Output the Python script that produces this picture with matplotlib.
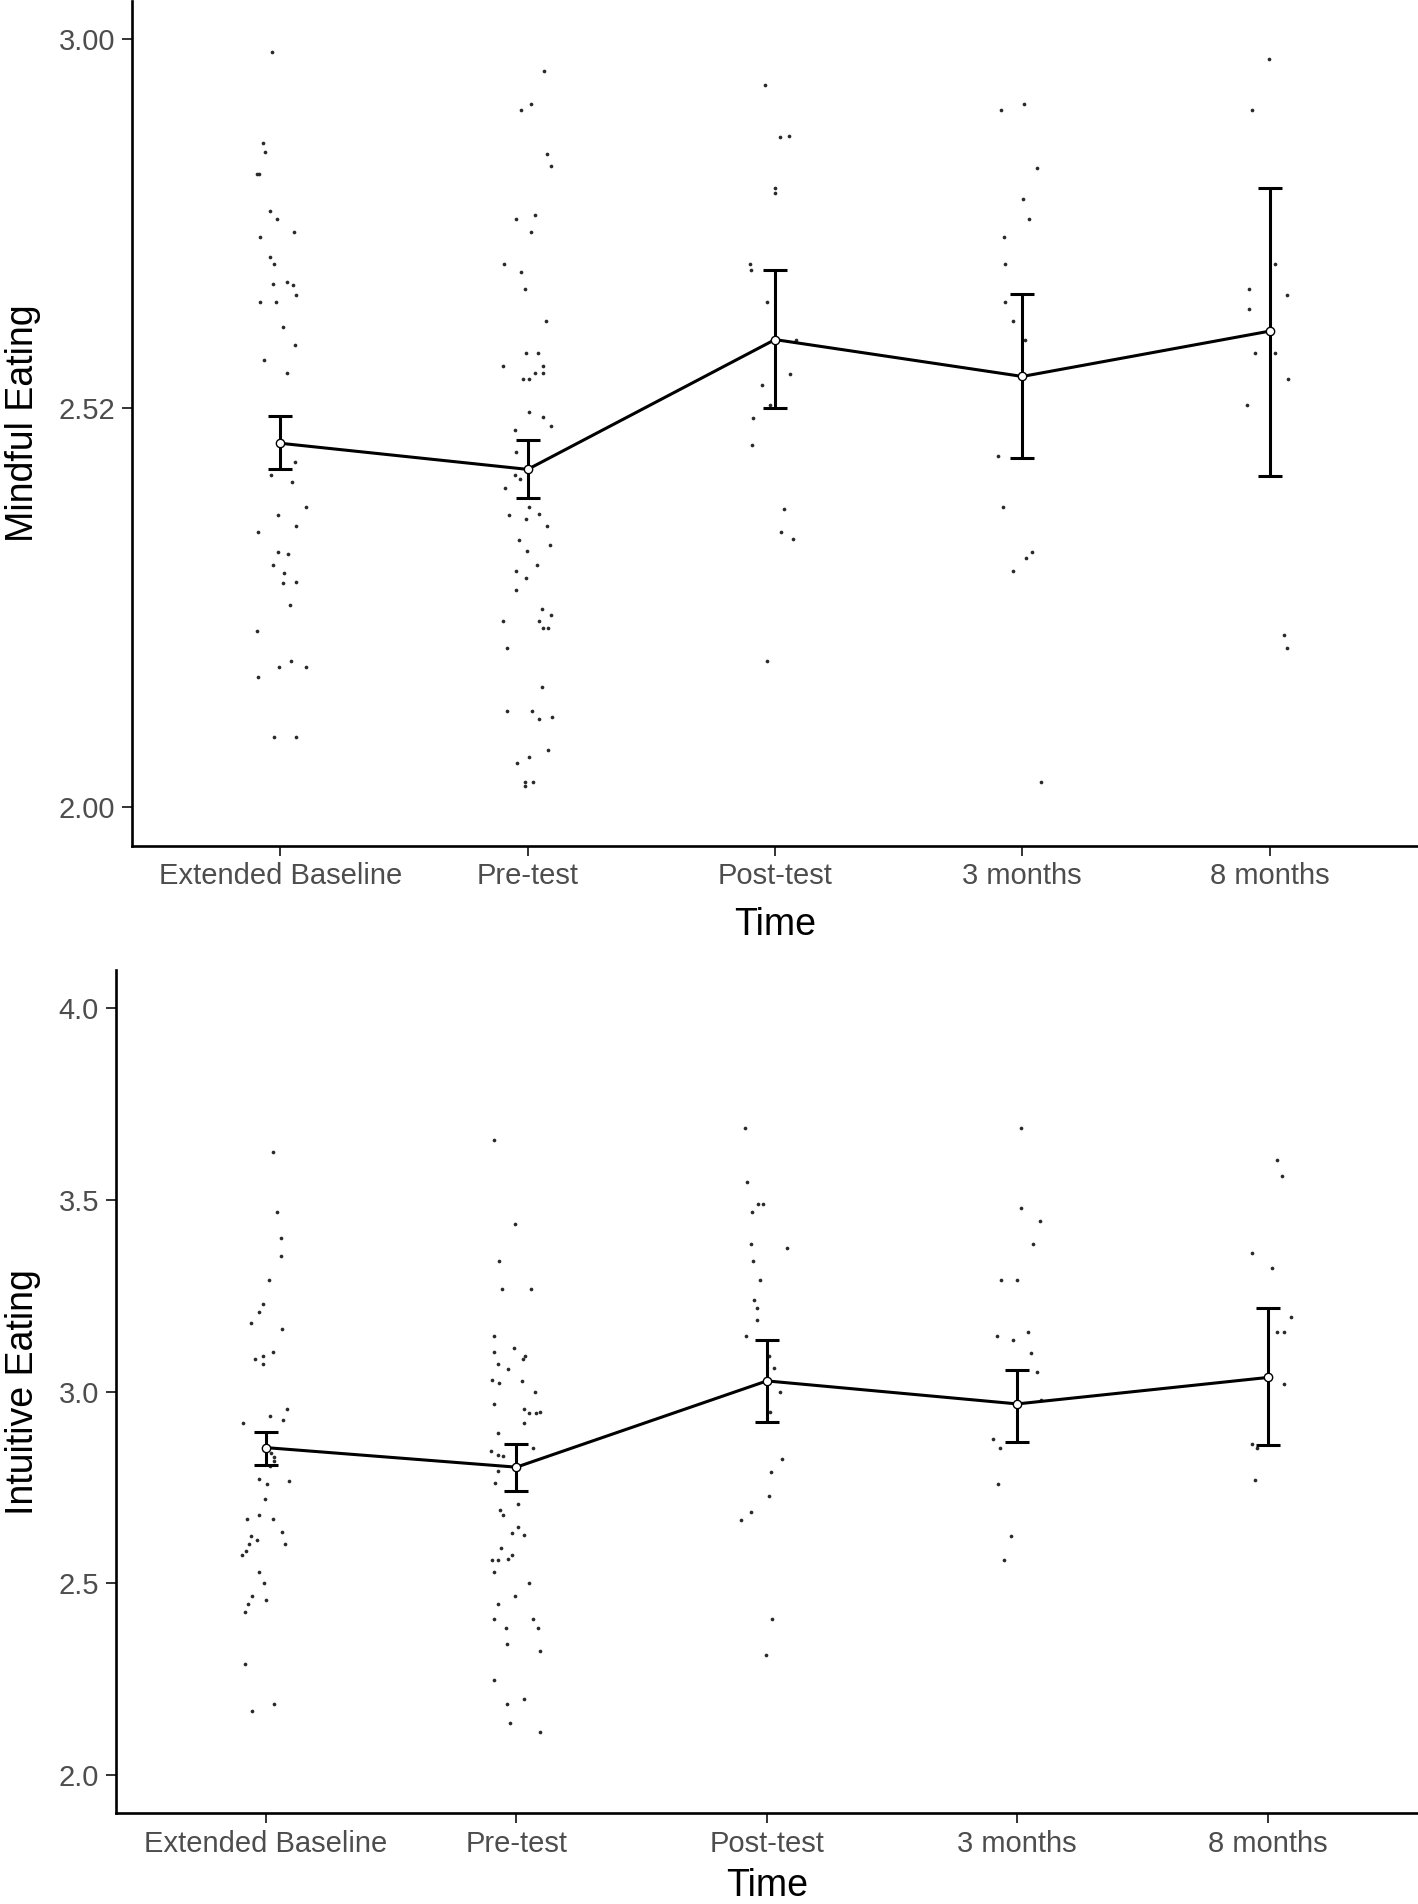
import matplotlib
matplotlib.use("Agg")
import matplotlib.pyplot as plt
import numpy as np

plt.rcParams['font.family'] = ['Liberation Sans', 'DejaVu Sans']

times = ["Extended Baseline", "Pre-test", "Post-test", "3 months", "8 months"]

# Mindful Eating: group means and error bar ends
mindful_mean = [2.474, 2.440, 2.609, 2.561, 2.620]
mindful_lo = [2.441, 2.403, 2.520, 2.455, 2.432]
mindful_hi = [2.509, 2.478, 2.699, 2.669, 2.807]

# Intuitive Eating: group means and error bar ends
intuitive_mean = [2.854, 2.803, 3.028, 2.968, 3.037]
intuitive_lo = [2.809, 2.740, 2.920, 2.869, 2.860]
intuitive_hi = [2.895, 2.863, 3.135, 3.056, 3.217]

# raw scores as (jitter, value) per time point
me_baseline = [(-0.032, 2.983), (-0.072, 2.865), (-0.063, 2.853), (-0.094, 2.825), (-0.087, 2.825),
               (-0.041, 2.777), (-0.012, 2.766), (0.056, 2.749), (-0.083, 2.742), (-0.041, 2.717),
               (-0.025, 2.708), (-0.030, 2.682), (0.028, 2.684), (0.052, 2.680), (0.065, 2.667),
               (-0.081, 2.658), (-0.017, 2.658), (0.010, 2.625), (0.059, 2.602), (-0.067, 2.583),
               (0.028, 2.566), (0.059, 2.450), (-0.039, 2.433), (0.047, 2.424), (0.102, 2.391),
               (-0.008, 2.380), (0.065, 2.366), (-0.091, 2.358), (-0.008, 2.333), (0.032, 2.330),
               (-0.030, 2.316), (0.014, 2.305), (0.065, 2.294), (0.010, 2.292), (0.039, 2.263),
               (-0.096, 2.230), (0.043, 2.191), (-0.005, 2.183), (0.102, 2.183), (-0.091, 2.170),
               (-0.026, 2.091), (0.065, 2.091)]
me_pre = [(0.066, 2.959), (0.013, 2.916), (-0.029, 2.908), (0.079, 2.851), (0.093, 2.835),
          (0.029, 2.771), (-0.046, 2.766), (0.013, 2.749), (-0.095, 2.707), (-0.029, 2.697),
          (-0.009, 2.675), (0.075, 2.633), (-0.006, 2.592), (0.042, 2.592), (-0.099, 2.575),
          (0.062, 2.575), (0.029, 2.566), (0.062, 2.566), (-0.017, 2.558), (0.007, 2.558),
          (0.004, 2.515), (0.062, 2.508), (0.093, 2.497), (-0.051, 2.491), (-0.048, 2.463),
          (-0.051, 2.433), (-0.033, 2.428), (-0.093, 2.416), (0.007, 2.391), (-0.075, 2.381),
          (-0.006, 2.375), (0.044, 2.382), (0.080, 2.366), (-0.035, 2.348), (0.090, 2.341),
          (-0.002, 2.334), (0.038, 2.316), (-0.048, 2.308), (-0.006, 2.299), (-0.048, 2.283),
          (0.058, 2.258), (0.044, 2.242), (0.093, 2.250), (0.062, 2.233), (0.084, 2.234),
          (-0.099, 2.242), (-0.084, 2.208), (0.058, 2.156), (-0.084, 2.125), (0.016, 2.125),
          (0.044, 2.115), (0.097, 2.117), (0.084, 2.075), (-0.044, 2.058), (0.007, 2.065),
          (-0.011, 2.033), (0.020, 2.033), (-0.011, 2.028)]
me_post = [(-0.041, 2.941), (0.021, 2.873), (0.057, 2.874), (0.002, 2.807), (0.002, 2.800),
           (-0.100, 2.707), (-0.096, 2.700), (-0.032, 2.658), (0.085, 2.608), (0.061, 2.564),
           (-0.051, 2.550), (-0.019, 2.524), (-0.087, 2.507), (-0.091, 2.472), (0.036, 2.388),
           (0.026, 2.358), (0.072, 2.349), (-0.032, 2.191)]
me_3m = [(-0.086, 2.908), (0.005, 2.916), (0.060, 2.833), (0.002, 2.792), (0.027, 2.766),
         (-0.075, 2.742), (-0.072, 2.708), (-0.072, 2.658), (-0.039, 2.633), (0.009, 2.608),
         (-0.097, 2.458), (-0.079, 2.391), (0.040, 2.333), (0.014, 2.325), (-0.039, 2.308),
         (0.075, 2.033)]
me_8m = [(-0.003, 2.974), (-0.073, 2.908), (0.021, 2.708), (-0.084, 2.675), (0.070, 2.667),
         (-0.084, 2.649), (-0.060, 2.592), (0.021, 2.592), (0.074, 2.558), (-0.091, 2.524),
         (0.059, 2.224), (0.070, 2.208)]

ie_baseline = [(0.027, 3.625), (0.045, 3.468), (0.059, 3.402), (0.059, 3.353), (0.012, 3.291),
               (-0.013, 3.229), (-0.029, 3.208), (-0.060, 3.178), (0.065, 3.163), (0.030, 3.103),
               (-0.044, 3.085), (-0.011, 3.094), (-0.013, 3.073), (0.083, 2.956), (0.018, 2.936),
               (0.070, 2.927), (-0.091, 2.917), (0.020, 2.840), (0.032, 2.830), (0.032, 2.818),
               (0.016, 2.805), (-0.027, 2.771), (0.005, 2.760), (0.092, 2.768), (-0.004, 2.719),
               (-0.076, 2.668), (-0.026, 2.678), (0.029, 2.667), (0.065, 2.634), (-0.058, 2.623),
               (-0.037, 2.612), (-0.067, 2.603), (0.077, 2.603), (-0.080, 2.584), (-0.094, 2.573),
               (-0.027, 2.530), (-0.009, 2.500), (-0.055, 2.468), (-0.073, 2.447), (0.001, 2.457),
               (-0.083, 2.426), (-0.083, 2.290), (0.034, 2.186), (-0.055, 2.167)]
ie_pre = [(-0.091, 3.656), (-0.005, 3.438), (-0.068, 3.340), (-0.059, 3.269), (0.057, 3.269),
          (-0.091, 3.145), (-0.008, 3.114), (-0.091, 3.103), (0.035, 3.094), (0.026, 3.084),
          (-0.073, 3.073), (-0.034, 3.060), (-0.097, 3.030), (-0.070, 3.023), (0.022, 3.029),
          (0.073, 3.000), (-0.091, 2.968), (0.030, 2.956), (0.051, 2.943), (0.077, 2.943),
          (0.095, 2.947), (0.030, 2.919), (-0.073, 2.891), (0.066, 2.853), (-0.100, 2.844),
          (-0.073, 2.836), (-0.052, 2.833), (-0.073, 2.792), (-0.086, 2.762), (0.008, 2.707),
          (-0.064, 2.690), (-0.055, 2.677), (0.008, 2.646), (-0.019, 2.632), (0.032, 2.625),
          (-0.061, 2.593), (-0.097, 2.562), (-0.073, 2.562), (-0.032, 2.564), (-0.016, 2.573),
          (-0.091, 2.530), (0.050, 2.500), (-0.005, 2.468), (-0.073, 2.447), (-0.091, 2.406),
          (0.066, 2.406), (-0.043, 2.384), (0.086, 2.384), (-0.037, 2.342), (0.095, 2.323),
          (-0.091, 2.249), (-0.037, 2.186), (0.032, 2.197), (-0.024, 2.135), (0.095, 2.113)]
ie_post = [(-0.089, 3.689), (-0.080, 3.548), (-0.036, 3.490), (-0.015, 3.490), (-0.058, 3.468),
           (-0.063, 3.385), (0.079, 3.375), (-0.056, 3.340), (-0.027, 3.291), (-0.053, 3.240),
           (-0.040, 3.218), (-0.040, 3.186), (-0.085, 3.146), (0.009, 3.094), (0.029, 3.063),
           (0.054, 3.000), (0.013, 2.947), (0.059, 2.823), (0.016, 2.791), (0.009, 2.728),
           (-0.062, 2.685), (-0.103, 2.666), (0.022, 2.406), (-0.002, 2.312)]
ie_3m = [(0.016, 3.689), (0.016, 3.479), (0.091, 3.446), (0.064, 3.385), (-0.067, 3.291),
         (-0.003, 3.291), (0.043, 3.156), (-0.082, 3.146), (-0.019, 3.136), (0.055, 3.102),
         (0.079, 3.051), (0.093, 2.977), (-0.098, 2.877), (-0.069, 2.853), (-0.077, 2.760),
         (-0.026, 2.624), (-0.052, 2.562)]
ie_8m = [(0.035, 3.605), (0.055, 3.563), (-0.061, 3.363), (0.018, 3.322), (0.094, 3.196),
         (0.035, 3.156), (0.065, 3.156), (0.065, 3.020), (-0.061, 2.864), (-0.043, 2.853),
         (-0.050, 2.769)]

mindful_points = [me_baseline, me_pre, me_post, me_3m, me_8m]
intuitive_points = [ie_baseline, ie_pre, ie_post, ie_3m, ie_8m]

W, H = 1418, 1904
fig = plt.figure(figsize=(W / 100, H / 100), dpi=100)

TICK_GREY = '#4d4d4d'


def panel(rect, points, mean, lo, hi, ylim, yticks, yticklabels, ylabel, ylabel_y, xpad):
    ax = fig.add_axes(rect)
    pos = np.arange(1, len(times) + 1)
    for i, pts in enumerate(points):
        jit = np.array([p[0] for p in pts])
        val = np.array([p[1] for p in pts])
        ax.scatter(pos[i] + jit, val, s=7, color='#2a2a2a', linewidths=0, zorder=2)
    mean = np.array(mean)
    err = [mean - np.array(lo), np.array(hi) - mean]
    ax.errorbar(pos, mean, yerr=err, fmt='none', ecolor='black', elinewidth=2.2,
                capsize=8.5, capthick=2.2, zorder=3)
    ax.plot(pos, mean, color='black', linewidth=2.2, zorder=4)
    ax.plot(pos, mean, 'o', ms=6, mfc='white', mec='black', mew=1.0, zorder=5)

    ax.set_xlim(0.4, 5.6)
    ax.set_ylim(*ylim)
    ax.set_xticks(pos)
    ax.set_xticklabels(times)
    ax.set_yticks(yticks)
    ax.set_yticklabels(yticklabels)
    for s in ['top', 'right']:
        ax.spines[s].set_visible(False)
    for s in ['left', 'bottom']:
        ax.spines[s].set_linewidth(1.9)
        ax.spines[s].set_color('black')
    ax.tick_params(axis='both', length=7, width=1.4, color='#333333',
                   labelsize=21, labelcolor=TICK_GREY)
    ax.tick_params(axis='x', pad=5)
    ax.tick_params(axis='y', pad=5)
    ax.set_xlabel('Time', fontsize=27, color='black', labelpad=xpad)
    fig.text(23 / W, ylabel_y, ylabel, rotation=90, ha='center', va='center',
             fontsize=27, color='black')
    return ax


top_rect = [132 / W, 1 - 845.7 / H, (W - 132) / W, 844.8 / H]
bot_rect = [115.7 / W, 1 - 1813.3 / H, (W - 115.7) / W, (1813.3 - 970) / H]

panel(top_rect, mindful_points, mindful_mean, mindful_lo, mindful_hi,
      (1.95, 3.05), [2.00, 2.52, 3.00], ['2.00', '2.52', '3.00'],
      'Mindful Eating', 1 - 423 / H, 12)
panel(bot_rect, intuitive_points, intuitive_mean, intuitive_lo, intuitive_hi,
      (1.9, 4.1), [2.0, 2.5, 3.0, 3.5, 4.0], ['2.0', '2.5', '3.0', '3.5', '4.0'],
      'Intuitive Eating', 1 - 1392 / H, 7)

fig.savefig('out.png', dpi=100)
